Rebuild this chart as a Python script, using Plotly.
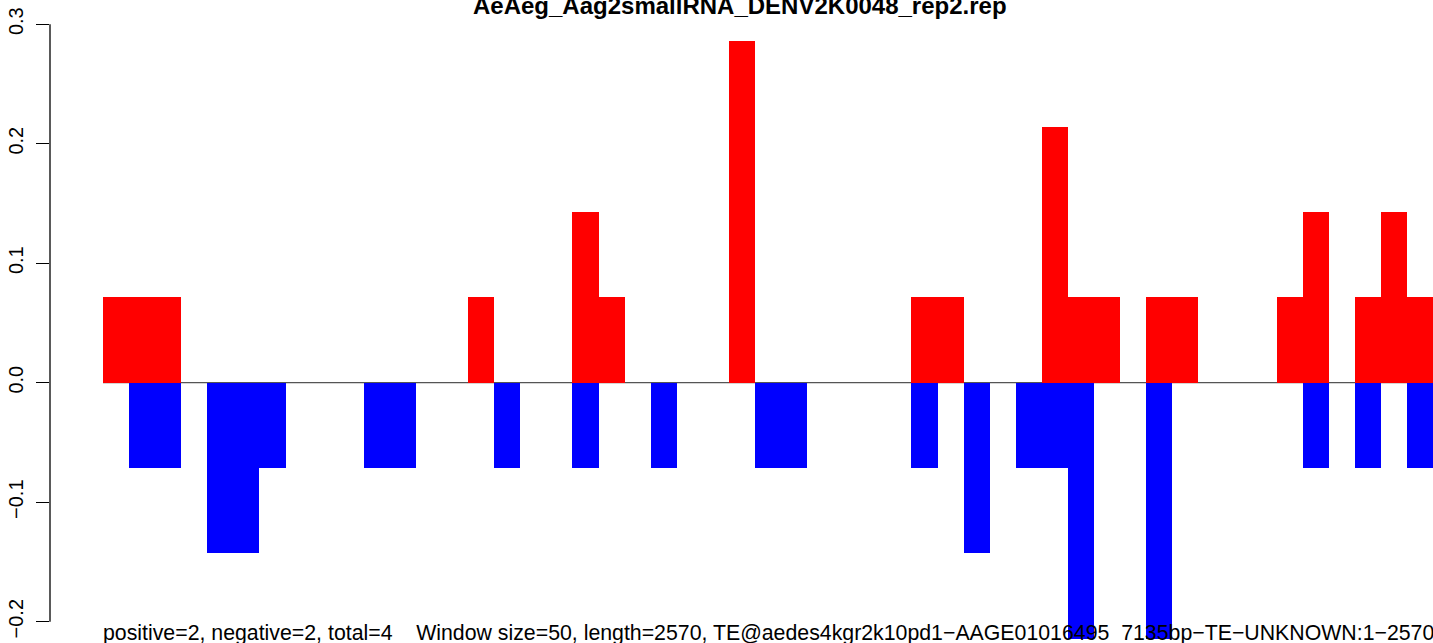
import plotly.graph_objects as go

# window index (Window size = 50 over length 2570)
window_index = list(range(51))

positive = [0.0714, 0.0714, 0.0714, 0, 0, 0, 0, 0, 0, 0,
            0, 0, 0, 0, 0.0714, 0, 0, 0, 0.1429, 0.0714,
            0, 0, 0, 0, 0.2857, 0, 0, 0, 0, 0,
            0, 0.0714, 0.0714, 0, 0, 0, 0.2143, 0.0714, 0.0714, 0,
            0.0714, 0.0714, 0, 0, 0, 0.0714, 0.1429, 0, 0.0714, 0.1429,
            0.0714]

negative = [0, -0.0714, -0.0714, 0, -0.1429, -0.1429, -0.0714, 0, 0, 0,
            -0.0714, -0.0714, 0, 0, 0, -0.0714, 0, 0, -0.0714, 0,
            0, -0.0714, 0, 0, 0, -0.0714, -0.0714, 0, 0, 0,
            0, -0.0714, 0, -0.1429, 0, -0.0714, -0.0714, -0.2143, 0, 0,
            -0.2143, 0, 0, 0, 0, 0, -0.0714, 0, -0.0714, 0,
            -0.0714]

y_ticks = [-0.2, -0.1, 0.0, 0.1, 0.2, 0.3]
y_tick_labels = ["\u22120.2", "\u22120.1", "0.0", "0.1", "0.2", "0.3"]

title_text = "AeAeg_Aag2smallRNA_DENV2K0048_rep2.rep"
footer_text = ("positive=2, negative=2, total=4\u00a0\u00a0\u00a0\u00a0Window size=50, length=2570, "
               "TE@aedes4kgr2k10pd1\u2212AAGE01016495_7135bp\u2212TE\u2212UNKNOWN:1\u22122570")

W, H = 1433, 643
left_px = 50
zero_px = 382.7
px_per_unit = 1195.0
bin_px = 26.08
first_bar_px = 103

x_lo = (left_px - first_bar_px) / bin_px - 0.5
x_hi = (W - first_bar_px) / bin_px - 0.5
y_hi = zero_px / px_per_unit
y_lo = (zero_px - H) / px_per_unit

fig = go.Figure()
fig.add_trace(go.Bar(x=window_index, y=positive, marker=dict(color="#FF0000", line=dict(width=0)),
                     width=1.0, showlegend=False, hoverinfo="skip"))
fig.add_trace(go.Bar(x=window_index, y=negative, marker=dict(color="#0000FF", line=dict(width=0)),
                     width=1.0, showlegend=False, hoverinfo="skip"))

# zero line
fig.add_shape(type="line", xref="x", yref="y", x0=-0.5, x1=x_hi, y0=0, y1=0,
              line=dict(color="#555555", width=1.2), layer="below")
# y axis line from -0.2 to 0.3
fig.add_shape(type="line", xref="paper", yref="y", x0=0, x1=0, y0=y_ticks[0], y1=y_ticks[-1],
              line=dict(color="black", width=1.3))

fig.add_annotation(text="<b>" + title_text + "</b>", xref="paper", yref="paper",
                   x=(740 - left_px) / (W - left_px), y=1 - 5 / H, xanchor="center", yanchor="middle",
                   showarrow=False, font=dict(family="Liberation Sans, Arial", size=24, color="black"))
fig.add_annotation(text=footer_text, xref="x", yref="paper",
                   x=-0.5 - 2 / bin_px, y=-4 / H, xanchor="left", yanchor="bottom",
                   showarrow=False, font=dict(family="Liberation Sans, Arial", size=21.3, color="black"))

fig.update_layout(
    width=W, height=H,
    margin=dict(l=left_px, r=0, t=0, b=0),
    paper_bgcolor="white", plot_bgcolor="white",
    barmode="overlay", bargap=0,
    xaxis=dict(range=[x_lo, x_hi], visible=False, showgrid=False, zeroline=False),
    yaxis=dict(range=[y_lo, y_hi], tickvals=y_ticks, ticktext=y_tick_labels,
               ticks="outside", ticklen=13, tickwidth=1.3, tickcolor="black",
               tickangle=-90, showgrid=False, zeroline=False, showline=False,
               ticklabelstandoff=5,
               tickfont=dict(family="Liberation Sans, Arial", size=20, color="black")),
)

fig.write_html("out.html", config={"displayModeBar": False},
               post_script="document.body.style.margin='0';")
